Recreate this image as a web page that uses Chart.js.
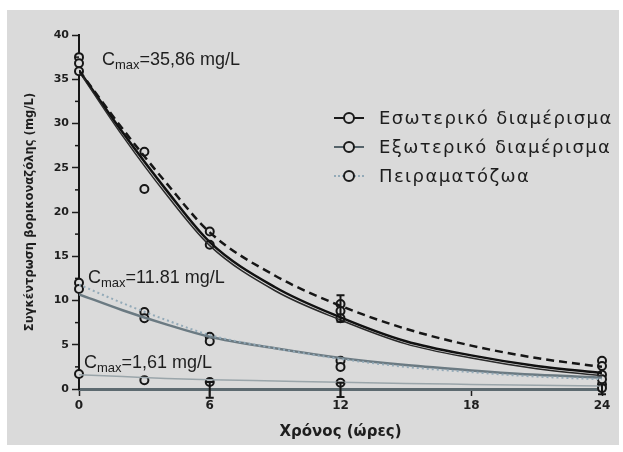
<!DOCTYPE html>
<html>
<head>
<meta charset="utf-8">
<script src="https://cdn.jsdelivr.net/npm/chart.js@4.4.1/dist/chart.umd.min.js"></script>
<style>
body{margin:0;background:#fff;width:623px;height:452px;overflow:hidden;position:relative;font-family:"Liberation Sans",Arial,sans-serif}
#panel{position:absolute;left:7px;top:10px;width:612px;height:435px;background:#dadada}
#wrap{position:absolute;left:0;top:0;width:623px;height:452px}
#legend{position:absolute;left:334px;top:103px;font-family:"DejaVu Sans",sans-serif;font-size:18px;letter-spacing:1.4px;color:#1e1e1e}
.row{height:29px;display:flex;align-items:center;white-space:nowrap}
.mk{position:relative;width:30px;height:12px;margin-right:15px}
.mk .ln{position:absolute;left:0;right:0;top:5px;border-top:2px solid #222}
.mk .dot{position:absolute;left:9px;top:0;width:8px;height:8px;border:2px solid #1a1a1a;border-radius:50%;background:#dadada}
</style>
</head>
<body>
<div id="panel"></div>
<div id="wrap"><canvas id="c" width="623" height="452"></canvas></div>
<div id="legend"></div>
<script>
// courbes ajustées
const curveHours = [0, 2, 4, 6, 9, 12, 15, 18, 21, 24]
const innerFit = [36.0, 29.0, 22.5, 16.6, 11.5, 8.1, 5.4, 3.8, 2.6, 1.8]
const innerFit2 = [35.9, 28.6, 22.0, 16.2, 11.1, 7.8, 5.1, 3.5, 2.3, 1.5]
const innerFitDash = [36.0, 29.4, 23.3, 17.7, 12.8, 9.4, 6.8, 4.9, 3.5, 2.5]
const outerFit = [10.7, 8.9, 7.3, 5.9, 4.6, 3.5, 2.7, 2.1, 1.6, 1.3]
const outerFitDot = [11.8, 9.7, 7.8, 6.1, 4.6, 3.4, 2.5, 1.9, 1.4, 1.1]
const animalFit = [1.6, 1.4, 1.2, 1.05, 0.9, 0.75, 0.62, 0.52, 0.42, 0.35]

// mesures
const innerHours = [0, 0, 0, 3, 3, 6, 6, 12, 12, 12, 24, 24]
const innerConc = [37.5, 36.8, 35.9, 26.8, 22.6, 17.8, 16.3, 9.6, 8.8, 8.0, 3.2, 2.6]
const outerHours = [0, 0, 3, 3, 6, 6, 12, 12, 24, 24]
const outerConc = [12.0, 11.3, 8.7, 8.0, 5.9, 5.4, 3.2, 2.5, 1.6, 1.1]
const animalHours = [0, 3, 6, 12, 24, 24]
const animalConc = [1.7, 1.0, 0.8, 0.7, 0.5, 0.1]

// barres d'erreur
const errHours = [12, 6, 12, 24]
const errLow = [7.6, -1.0, -0.9, -0.6]
const errHigh = [10.6, 0.8, 0.7, 0.5]

const legendNames = ["Εσωτερικό διαμέρισμα", "Εξωτερικό διαμέρισμα", "Πειραματόζωα"]
const cmaxLabels = ["=35,86 mg/L", "=11.81 mg/L", "=1,61 mg/L"]

const xTicks = [0, 6, 12, 18, 24]
const yMax = 40

const bg = "#dadada"

function pts(xs, ys){
  return xs.map((x,i)=>({x:x, y:ys[i]}))
}

function curve(ys, color, width, dash){
  return {
    data: pts(curveHours, ys),
    showLine: true,
    borderColor: color,
    borderWidth: width,
    borderDash: dash || [],
    pointRadius: 0,
    pointHoverRadius: 0,
    cubicInterpolationMode: "monotone",
    fill: false
  }
}

function marks(xs, ys){
  return {
    data: pts(xs, ys),
    showLine: false,
    pointRadius: 4,
    pointBorderWidth: 2,
    pointBorderColor: "#161616",
    pointBackgroundColor: bg,
    clip: false
  }
}

const extras = {
  id: "extras",
  afterDatasetsDraw(chart){
    const ctx = chart.ctx
    const xs = chart.scales.x, ys = chart.scales.y
    ctx.save()
    // barres d'erreur
    ctx.strokeStyle = "#161616"
    ctx.lineWidth = 2
    errHours.forEach((h,i)=>{
      let px = xs.getPixelForValue(h)
      let lo = ys.getPixelForValue(errLow[i])
      let hi = ys.getPixelForValue(errHigh[i])
      ctx.beginPath()
      ctx.moveTo(px, lo); ctx.lineTo(px, hi)
      ctx.moveTo(px-4, hi); ctx.lineTo(px+4, hi)
      ctx.moveTo(px-4, lo); ctx.lineTo(px+4, lo)
      ctx.stroke()
    })
    // petites graduations y
    const left = chart.chartArea.left
    ctx.lineWidth = 1.5
    for(let v=2.5; v<yMax; v+=5){
      let py = ys.getPixelForValue(v)
      ctx.beginPath()
      ctx.moveTo(left-4, py); ctx.lineTo(left, py)
      ctx.stroke()
    }
    // Cmax
    const spots = [[102,65],[88,283],[84,368]]
    ctx.fillStyle = "#1e1e1e"
    ctx.textBaseline = "alphabetic"
    cmaxLabels.forEach((t,i)=>{
      let x = spots[i][0], y = spots[i][1]
      ctx.font = "18px 'Liberation Sans', Arial, sans-serif"
      ctx.fillText("C", x, y)
      x += ctx.measureText("C").width
      ctx.font = "13px 'Liberation Sans', Arial, sans-serif"
      ctx.fillText("max", x, y+4)
      x += ctx.measureText("max").width
      ctx.font = "18px 'Liberation Sans', Arial, sans-serif"
      ctx.fillText(t, x, y)
    })
    ctx.restore()
  }
}

new Chart(document.getElementById("c"), {
  type: "scatter",
  data: {
    datasets: [
      curve(innerFitDash, "#161616", 2.5, [8,5]),
      curve(innerFit2, "#2a2a2a", 1.5),
      curve(innerFit, "#111", 2.5),
      curve(outerFitDot, "#93aab8", 2, [2,3]),
      curve(outerFit, "#6b7a82", 2.5),
      curve(animalFit, "#9aa5aa", 1.5),
      marks(innerHours, innerConc),
      marks(outerHours, outerConc),
      marks(animalHours, animalConc)
    ]
  },
  options: {
    responsive: false,
    animation: false,
    layout: {padding: {top: 35, right: 21, left: 0, bottom: 0}},
    plugins: {legend: {display: false}, tooltip: {enabled: false}},
    scales: {
      x: {
        type: "linear", min: 0, max: 24,
        afterBuildTicks: s => { s.ticks = xTicks.map(v=>({value:v})) },
        afterFit: s => { s.height = 63 },
        ticks: {color: "#1e1e1e", font: {family: "'DejaVu Sans', sans-serif", size: 12, weight: "bold"}, padding: 3},
        grid: {drawOnChartArea: false, tickLength: 7, tickColor: "#1e1e1e", tickWidth: 1.5},
        border: {color: "#5d6a70", width: 3},
        title: {display: true, text: "Χρόνος (ώρες)", color: "#1e1e1e", font: {family: "'DejaVu Sans', sans-serif", size: 15, weight: "bold"}, padding: 11}
      },
      y: {
        min: 0, max: yMax,
        afterFit: s => { s.width = 79 },
        ticks: {stepSize: 5, color: "#1e1e1e", font: {family: "'DejaVu Sans', sans-serif", size: 11, weight: "bold"}, padding: 3},
        grid: {drawOnChartArea: false, tickLength: 7, tickColor: "#1e1e1e", tickWidth: 1.5},
        border: {color: "#161616", width: 2},
        title: {display: true, text: "Συγκέντρωση βορικοναζόλης (mg/L)", color: "#1e1e1e", font: {family: "'DejaVu Sans', sans-serif", size: 11.6, weight: "bold"}, padding: {top: 23, bottom: 0}}
      }
    }
  },
  plugins: [extras]
})

// légende
const legendLines = ["border-top:2px solid #1a1a1a", "border-top:2px solid #55636a", "border-top:2px dotted #93aab8"]
const lg = document.getElementById("legend")
legendNames.forEach((n,i)=>{
  lg.innerHTML += '<div class="row"><div class="mk"><div class="ln" style="'+legendLines[i]+'"></div><div class="dot"></div></div><span>'+n+'</span></div>'
})
</script>
</body>
</html>
